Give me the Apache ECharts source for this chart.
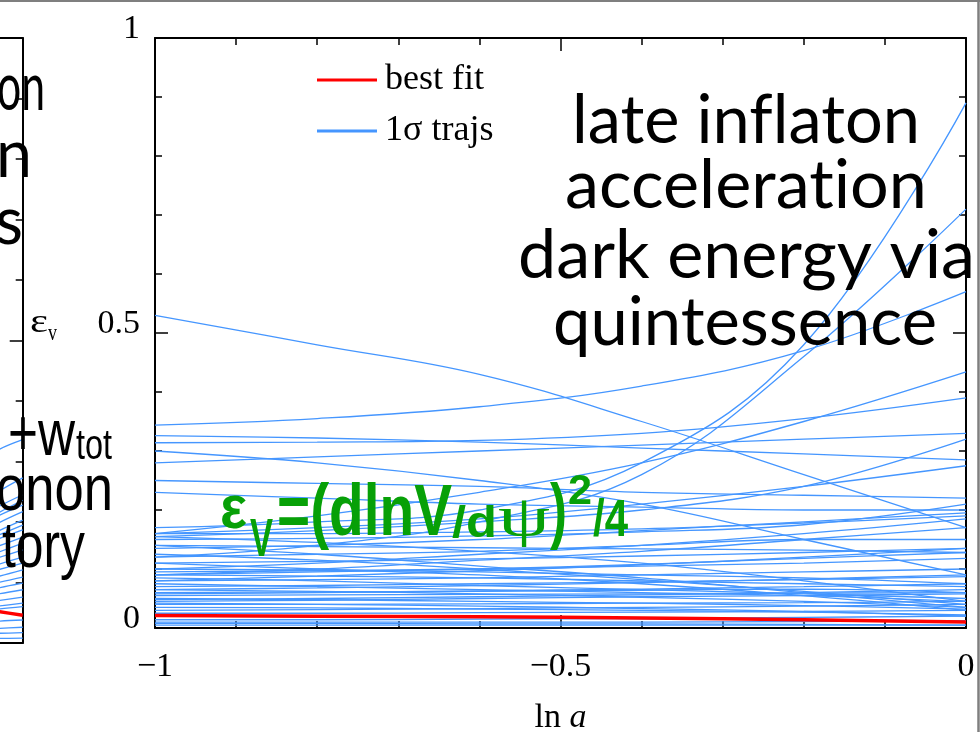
<!DOCTYPE html>
<html><head><meta charset="utf-8">
<script src="https://cdn.jsdelivr.net/npm/echarts@6/dist/echarts.min.js"></script>
<style>html,body{margin:0;padding:0;background:#fff;}#c{width:980px;height:732px;}</style>
</head><body><div id="c"></div>
<script>
// ---- data ----
const lnA = [-1, -0.8, -0.6, -0.4, -0.2, 0];
const bestFit = [0.021, 0.020, 0.019, 0.017, 0.014, 0.010];
const trajs = [
  [0.53, 0.48, 0.43, 0.35, 0.26, 0.17],
  [0.344, 0.355, 0.375, 0.41, 0.47, 0.57],
  [0.17, 0.18, 0.20, 0.28, 0.48, 0.89],
  [0.12, 0.14, 0.18, 0.26, 0.46, 0.71],
  [0.16, 0.19, 0.23, 0.28, 0.35, 0.434],
  [0.314, 0.315, 0.318, 0.33, 0.355, 0.39],
  [0.326, 0.322, 0.315, 0.305, 0.295, 0.285],
  [0.30, 0.28, 0.25, 0.21, 0.15, 0.09],
  [0.28, 0.29, 0.30, 0.31, 0.32, 0.33],
  [0.25, 0.245, 0.24, 0.23, 0.225, 0.22],
  [0.23, 0.22, 0.21, 0.205, 0.20, 0.20],
  [0.16, 0.17, 0.185, 0.21, 0.24, 0.275],
  [0.155, 0.165, 0.18, 0.20, 0.24, 0.32],
  [0.135, 0.14, 0.15, 0.165, 0.18, 0.195],
  [0.15, 0.152, 0.156, 0.163, 0.175, 0.21],
  [0.16, 0.16, 0.163, 0.168, 0.178, 0.19],
  [0.14, 0.138, 0.136, 0.134, 0.132, 0.128],
  [0.155, 0.145, 0.13, 0.11, 0.08, 0.045],
  [0.12, 0.125, 0.13, 0.14, 0.15, 0.15],
  [0.09, 0.10, 0.115, 0.13, 0.15, 0.17],
  [0.10, 0.11, 0.125, 0.14, 0.16, 0.185],
  [0.09, 0.095, 0.10, 0.108, 0.118, 0.128],
  [0.08, 0.088, 0.097, 0.107, 0.12, 0.135],
  [0.14, 0.125, 0.105, 0.085, 0.06, 0.035],
  [0.125, 0.115, 0.10, 0.082, 0.062, 0.04],
  [0.11, 0.10, 0.09, 0.075, 0.055, 0.03],
  [0.09, 0.088, 0.085, 0.08, 0.075, 0.07],
  [0.085, 0.08, 0.072, 0.065, 0.058, 0.05],
  [0.08, 0.082, 0.085, 0.09, 0.095, 0.10],
  [0.075, 0.07, 0.065, 0.06, 0.055, 0.045],
  [0.07, 0.072, 0.075, 0.078, 0.082, 0.087],
  [0.065, 0.062, 0.058, 0.052, 0.045, 0.035],
  [0.06, 0.061, 0.062, 0.064, 0.066, 0.06],
  [0.055, 0.056, 0.057, 0.058, 0.059, 0.06],
  [0.05, 0.048, 0.045, 0.042, 0.038, 0.032],
  [0.045, 0.047, 0.05, 0.053, 0.055, 0.058],
  [0.04, 0.04, 0.041, 0.042, 0.043, 0.045],
  [0.035, 0.034, 0.032, 0.03, 0.027, 0.022],
  [0.03, 0.031, 0.033, 0.035, 0.037, 0.04],
  [0.014, 0.014, 0.015, 0.016, 0.018, 0.02],
  [0.010, 0.010, 0.010, 0.010, 0.011, 0.012],
  [0.005, 0.005, 0.005, 0.005, 0.005, 0.005],
  [0.008, 0.008, 0.007, 0.007, 0.006, 0.005],
  [0.10, 0.098, 0.095, 0.09, 0.085, 0.075],
  [0.065, 0.068, 0.072, 0.077, 0.083, 0.09],
  [0.058, 0.06, 0.063, 0.066, 0.07, 0.075],
  [0.048, 0.05, 0.053, 0.056, 0.06, 0.065],
  [0.042, 0.04, 0.037, 0.033, 0.028, 0.02],
  [0.025, 0.025, 0.026, 0.027, 0.028, 0.03],
  [0.02, 0.019, 0.018, 0.016, 0.014, 0.012],
  [0.11, 0.113, 0.117, 0.122, 0.128, 0.135],
  [0.095, 0.097, 0.10, 0.105, 0.11, 0.118]
];
// partially visible neighbouring panel (left edge of the slide)
const leftX = [0.6, 0.8, 1.0];
const leftBest = [0.058, 0.052, 0.046];
const leftTrajs = [
  [0.29, 0.319, 0.336], [0.22, 0.25, 0.273], [0.20, 0.225, 0.245], [0.19, 0.215, 0.236],
  [0.185, 0.21, 0.228], [0.175, 0.198, 0.217], [0.165, 0.185, 0.203], [0.16, 0.178, 0.195],
  [0.155, 0.172, 0.187], [0.145, 0.16, 0.175], [0.135, 0.15, 0.165], [0.128, 0.141, 0.154],
  [0.118, 0.13, 0.142], [0.11, 0.121, 0.132], [0.10, 0.11, 0.121], [0.09, 0.1, 0.109],
  [0.082, 0.091, 0.099], [0.073, 0.081, 0.088], [0.064, 0.07, 0.076], [0.056, 0.061, 0.066],
  [0.051, 0.056, 0.06], [0.033, 0.036, 0.038], [0.022, 0.024, 0.026], [0.015, 0.016, 0.017],
  [0.007, 0.0075, 0.008]
];
const yTickLabels = ['0', '0.5', '1'];
const xTickLabels = ['\u22121', '\u22120.5', '0'];

// ---- chart ----
const chart = echarts.init(document.getElementById('c'), null, {renderer: 'canvas'});
const BLUE = '#4596ff', RED = '#ff0000', GREEN = '#07a007';
const SERIF = '"Liberation Serif","Times New Roman",serif';

function frameAxis(extra) {
  return Object.assign({
    type: 'value',
    axisLine: {show: true, onZero: false, lineStyle: {color: '#000', width: 2}},
    axisTick: {show: true, inside: true, length: 13, lineStyle: {color: '#000', width: 1.5}},
    minorTick: {show: true, splitNumber: 5, length: 7, lineStyle: {color: '#000', width: 1.5}},
    splitLine: {show: false}, minorSplitLine: {show: false},
    axisLabel: {show: false}
  }, extra);
}

const ctx = document.createElement('canvas').getContext('2d');
function measure(txt, font) { ctx.font = font; return ctx.measureText(txt).width; }
// text whose horizontal extent is [l, r], alphabetic baseline near b
function txt(t, font, l, r, b, fill, size) {
  const w = measure(t, font);
  const s = (r - l) / w;
  return {type: 'text', x: l, y: b - 0.35 * size, scaleX: s, z: 100, silent: true,
    style: {text: t, x: 0, y: 0, font: font, fill: fill || '#000', textAlign: 'left', textVerticalAlign: 'middle'}};
}

const series = [];
trajs.forEach(t => series.push({
  type: 'line', name: '1\u03c3 trajs', xAxisIndex: 0, yAxisIndex: 0,
  data: lnA.map((x, i) => [x, t[i]]), smooth: 0.4, symbol: 'none', silent: true,
  color: BLUE, lineStyle: {color: BLUE, width: 1.3}, z: 2
}));
series.push({type: 'line', name: 'best fit', xAxisIndex: 0, yAxisIndex: 0,
  data: lnA.map((x, i) => [x, bestFit[i]]), smooth: 0.4, symbol: 'none', silent: true,
  color: RED, lineStyle: {color: RED, width: 3.5}, z: 3});
leftTrajs.forEach(t => series.push({
  type: 'line', name: '1\u03c3 trajs', xAxisIndex: 2, yAxisIndex: 2,
  data: leftX.map((x, i) => [x, t[i]]), smooth: 0.3, symbol: 'none', silent: true,
  color: BLUE, lineStyle: {color: BLUE, width: 1.3}, z: 2
}));
series.push({type: 'line', name: 'best fit', xAxisIndex: 2, yAxisIndex: 2,
  data: leftX.map((x, i) => [x, leftBest[i]]), smooth: 0.3, symbol: 'none', silent: true,
  color: RED, lineStyle: {color: RED, width: 3.5}, z: 3});

const GILL = '"Lato","Open Sans",sans-serif';
const NARROW = '"Liberation Sans Narrow","Liberation Sans",Arial,sans-serif';
const gfs = 68;
const gfont = gfs + 'px ' + GILL;
const ZW = '\u200c';
const graphics = [
  // slide frame
  {type: 'line', shape: {x1: 0, y1: 1, x2: 980, y2: 1}, style: {stroke: '#7f7f7f', lineWidth: 2}, z: 120, silent: true},
  {type: 'line', shape: {x1: 978.5, y1: 0, x2: 978.5, y2: 732}, style: {stroke: '#7f7f7f', lineWidth: 2.5}, z: 120, silent: true},
  // big caption on the right
  txt('late inf' + ZW + 'laton', gfont, 572, 920, 145, '#000', gfs),
  txt('accelerat' + ZW + 'ion', gfont, 565, 927, 210, '#000', gfs),
  txt('dark energy via', gfont, 518, 975, 280, '#000', gfs),
  txt('quintessence', gfont, 553, 937, 347, '#000', gfs),
  // clipped caption of neighbouring panel
  txt('on', gfont, -3, 45, 112, '#000', gfs),
  txt('n', gfont, -4, 32, 179, '#000', gfs),
  txt('s', gfont, -5, 23, 246, '#000', gfs),
  txt('+w', '64px ' + NARROW, 8, 75, 460, '#000', 64),
  txt('tot', '42px ' + NARROW, 76, 112, 462, '#000', 42),
  txt('onon', '64px ' + NARROW, -4, 113, 515, '#000', 64),
  txt('tory', '64px ' + NARROW, 2, 85, 572, '#000', 64),
  // y-axis name epsilon_v
  txt('\u03b5', '34px ' + SERIF, 30, 48, 335, '#000', 34),
  txt('v', '24px ' + SERIF, 48, 57, 342, '#000', 24),
  // green formula
  txt('\u03b5', 'bold 62px ' + NARROW, 220, 247, 533, GREEN, 62),
  txt('V', 'bold 54px ' + NARROW, 250, 273, 560, GREEN, 54),
  txt('=(dlnV', 'bold 72px ' + NARROW, 277, 452, 540, GREEN, 72),
  txt('/d', 'bold 44px ' + NARROW, 452, 497, 540, GREEN, 44),
  txt('\u03c8', '58px ' + SERIF, 498, 550, 540, GREEN, 58),
  txt(')', 'bold 72px ' + NARROW, 550, 567, 540, GREEN, 72),
  txt('2', 'bold 42px ' + NARROW, 568, 592, 507, GREEN, 42),
  txt('/4', 'bold 52px ' + NARROW, 593, 628, 540, GREEN, 52)
];

const option = {
  backgroundColor: '#fff',
  animation: false,
  grid: [
    {left: 155, top: 38, width: 811, height: 590, outerBoundsMode: 'none', containLabel: false},
    {left: -100, top: 38, width: 122.7, height: 605, outerBoundsMode: 'none', containLabel: false}
  ],
  legend: {
    data: ['best fit', '1\u03c3 trajs'], orient: 'vertical', left: 317, top: 62, padding: 0,
    icon: 'rect', itemWidth: 60, itemHeight: 3, itemGap: 15,
    textStyle: {fontFamily: SERIF, fontSize: 36, color: '#000', padding: [0, 0, 0, 3]}
  },
  xAxis: [
    frameAxis({gridIndex: 0, position: 'bottom', min: -1, max: 0, interval: 0.5,
      axisLabel: {show: true, formatter: (v) => xTickLabels[Math.round((v + 1) * 2)],
        fontFamily: SERIF, fontSize: 34, color: '#000', margin: 22,
        alignMinLabel: 'center', alignMaxLabel: 'center'},
      name: '{r|ln }{i|a}', nameLocation: 'middle', nameGap: 73,
      nameTextStyle: {rich: {r: {fontFamily: SERIF, fontSize: 34, color: '#000'},
        i: {fontFamily: SERIF, fontSize: 34, fontStyle: 'italic', color: '#000'}}}}),
    frameAxis({gridIndex: 0, position: 'top', min: -1, max: 0, interval: 0.5}),
    frameAxis({gridIndex: 1, position: 'bottom', min: 0, max: 1, axisTick: {show: false}, minorTick: {show: false}}),
    frameAxis({gridIndex: 1, position: 'top', min: 0, max: 1, axisTick: {show: false}, minorTick: {show: false}})
  ],
  yAxis: [
    frameAxis({gridIndex: 0, position: 'left', min: 0, max: 1, interval: 0.5,
      axisLabel: {show: true, formatter: (v) => yTickLabels[Math.round(v * 2)],
        fontFamily: SERIF, fontSize: 34, color: '#000', margin: 15, lineHeight: 18,
        verticalAlign: 'bottom', verticalAlignMinLabel: 'bottom', verticalAlignMaxLabel: 'bottom'}}),
    frameAxis({gridIndex: 0, position: 'right', min: 0, max: 1, interval: 0.5}),
    frameAxis({gridIndex: 1, position: 'right', min: 0, max: 1, interval: 0.5})
  ],
  series: series,
  graphic: graphics
};
chart.setOption(option);
</script></body></html>
